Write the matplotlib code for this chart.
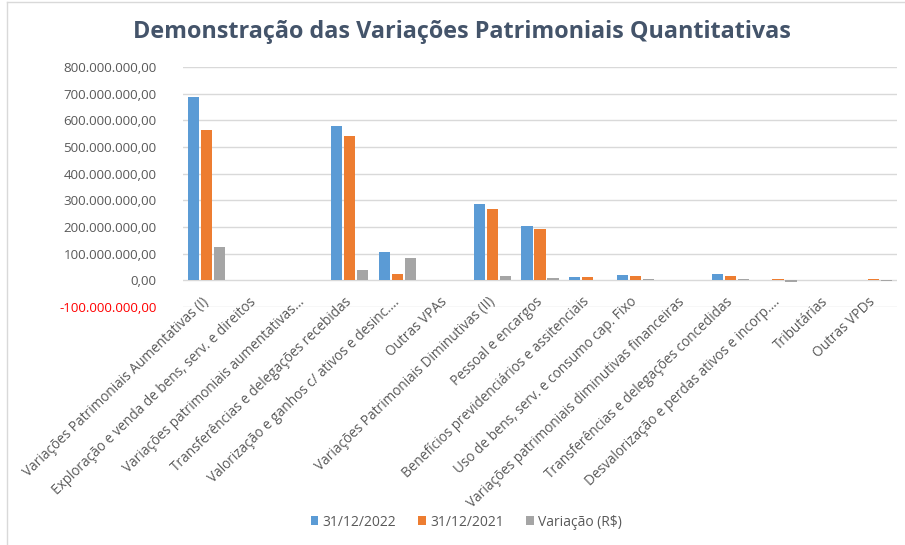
import numpy as np
import matplotlib
matplotlib.use('Agg')
import matplotlib.pyplot as plt
from matplotlib.lines import Line2D
from matplotlib.ticker import FuncFormatter

plt.rcParams['font.family'] = ['Open Sans', 'DejaVu Sans']

categorias = [
    'Variações Patrimoniais Aumentativas (I)',
    'Exploração e venda de bens, serv. e direitos',
    'Variações patrimoniais aumentativas...',
    'Transferências e delegações recebidas',
    'Valorização e ganhos c/ ativos e desinc....',
    'Outras VPAs',
    'Variações Patrimoniais Diminutivas (II)',
    'Pessoal e encargos',
    'Benefícios previdenciários e assitenciais',
    'Uso de bens, serv. e consumo cap. Fixo',
    'Variações patrimoniais diminutivas financeiras',
    'Transferências e delegações concedidas',
    'Desvalorização e perdas ativos e incorp....',
    'Tributárias',
    'Outras VPDs',
]

# valores em milhões de reais
saldo_2022 = [689, 0, 0, 580, 105, 0, 285, 203, 13.5, 20, 0, 23, 0, 0, 0]
saldo_2021 = [564, 0, 0, 541, 22, 0, 267, 194, 13.5, 16, 0, 17, 6, 0, 4]
variacao = [125, 0, 0, 39, 83, 0, 15, 8, 0, 4, 0, 6, -6, 0, -1]

series = [
    ('31/12/2022', saldo_2022, '#5B9BD5'),
    ('31/12/2021', saldo_2021, '#ED7D31'),
    ('Variação (R$)', variacao, '#A5A5A5'),
]

def brl(v, pos=None):
    s = '{:,.2f}'.format(v)
    return s.replace(',', 'X').replace('.', ',').replace('X', '.')

fig = plt.figure(figsize=(9.05, 5.45), dpi=100)
ax = fig.add_axes([183 / 905, 1 - 307 / 545, 714 / 905, 240 / 545])

x = np.arange(len(categorias))
w = 0.235
for k, (nome, vals, cor) in enumerate(series):
    ax.bar(x + (k - 1) * (w + 0.04), np.array(vals) * 1e6, width=w,
           color=cor, label=nome, zorder=3)

ax.set_xlim(-0.5, len(categorias) - 0.5)
ax.set_ylim(-100e6, 800e6)
ax.set_yticks(np.arange(-100e6, 801e6, 100e6))
ax.yaxis.set_major_formatter(FuncFormatter(brl))
ax.tick_params(axis='y', length=0, pad=19, labelsize=9.6, labelcolor='#595959')
fig.canvas.draw()
for t in ax.get_yticklabels():
    if t.get_text().startswith('-'):
        t.set_color('#FF0000')

ax.set_xticks([])
ax.grid(axis='y', color='#D9D9D9', linewidth=1, zorder=0)
for s in ax.spines.values():
    s.set_visible(False)

# rótulos das categorias junto ao eixo no zero
for i, nome in enumerate(categorias):
    ax.annotate(nome, xy=(i, 0), xytext=(0, -14), textcoords='offset points',
                rotation=44, rotation_mode='anchor', ha='right', va='center',
                fontsize=9.8, color='#595959', annotation_clip=False)

fig.text(0.51, 1 - 32 / 545, 'Demonstração das Variações Patrimoniais Quantitativas',
         ha='center', va='center', fontsize=16.8, fontweight='bold', color='#44546A')

fig.legend(loc='center', bbox_to_anchor=(0.515, 1 - 522 / 545), ncol=3,
           frameon=False, fontsize=10, handlelength=0.55, handleheight=0.55,
           handletextpad=0.3, columnspacing=1.6, labelcolor='#595959')

# moldura do gráfico
fig.add_artist(Line2D([7 / 905, 7 / 905], [0, 1 - 2 / 545], color='#D9D9D9', lw=1))
fig.add_artist(Line2D([7 / 905, 1], [1 - 2 / 545, 1 - 2 / 545], color='#D9D9D9', lw=1))

fig.savefig('out.png', dpi=100)
